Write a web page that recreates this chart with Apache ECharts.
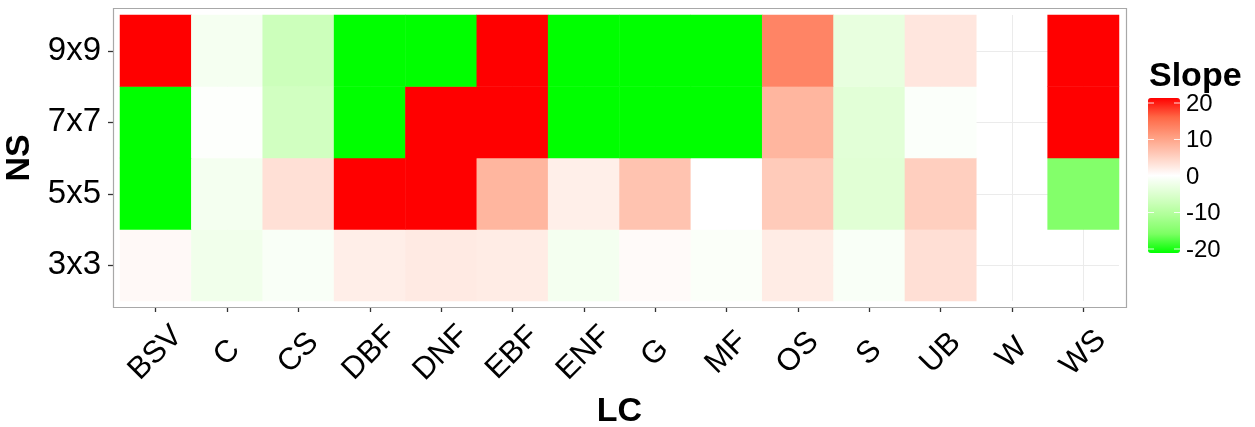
<!DOCTYPE html>
<html>
<head>
<meta charset="utf-8">
<script src="https://cdn.jsdelivr.net/npm/echarts@6/dist/echarts.min.js"></script>
<style>
  html, body { margin: 0; padding: 0; background: #ffffff; }
  #chart { width: 1255px; height: 427px; }
</style>
</head>
<body>
<div id="chart"></div>
<script>
// Land-cover classes (x) and neighbourhood sizes (y)
const landCover = ['BSV', 'C', 'CS', 'DBF', 'DNF', 'EBF', 'ENF', 'G', 'MF', 'OS', 'S', 'UB', 'W', 'WS'];
const neighbourhood = ['3x3', '5x5', '7x7', '9x9'];

// Slope per land-cover class, one array per neighbourhood size (null = no data)
const slope3x3 = [0.6, -2.0, -0.8, 1.8, 2.2, 2.0, -1.5, 0.5, -0.6, 2.0, -0.8, 3.3, null, null];
const slope5x5 = [-25, -1.5, 3.2, 25, 25, 7.6, 1.7, 6.2, 0.0, 5.4, -4.2, 5.0, null, -14.4];
const slope7x7 = [-25, -0.3, -6.2, -25, 25, 25, -25, -25, -25, 7.6, -4.0, -0.5, null, 25];
const slope9x9 = [25, -1.4, -6.8, -25, -25, 25, -25, -25, -25, 12.4, -3.2, 2.6, null, 25];

// Colour-bar limits and tick labels
const slopeMin = -20;
const slopeMax = 20;
const legendTicks = [20, 10, 0, -10, -20];

const FONT = '"Liberation Sans", Arial, Helvetica, sans-serif';

// Build heatmap cells; the 4th dimension is squished into the colour range
const rows = [slope3x3, slope5x5, slope7x7, slope9x9];
const cells = [];
rows.forEach(function (row, yi) {
  row.forEach(function (v, xi) {
    if (v === null) return;
    const squished = Math.max(slopeMin, Math.min(slopeMax, v));
    cells.push([xi, yi, v, squished]);
  });
});

// Grid lines through category centres (behind the tiles)
const gridLineData = landCover.map(function (c) { return { xAxis: c }; })
  .concat(neighbourhood.map(function (n) { return { yAxis: n }; }));

// Colour-bar geometry: the bar runs slightly past the end ticks
const barLeft = 1148, barTop = 98, barW = 32, barH = 155;
const tickTop = 103, tickBottom = 249;
function barY(v) { return tickTop + (slopeMax - v) / (slopeMax - slopeMin) * (tickBottom - tickTop); }

const legendGraphics = [];
legendTicks.forEach(function (t) {
  const y = barY(t);
  legendGraphics.push({
    type: 'text', x: barLeft + barW + 6, y: y + 1, z: 100,
    style: { text: String(t), font: '24px ' + FONT, fill: '#000', verticalAlign: 'middle', align: 'left' }
  });
  legendGraphics.push({
    type: 'line', z: 100, silent: true,
    shape: { x1: barLeft, y1: y, x2: barLeft + 6, y2: y },
    style: { stroke: 'rgba(255,255,255,0.85)', lineWidth: 1 }
  });
  legendGraphics.push({
    type: 'line', z: 100, silent: true,
    shape: { x1: barLeft + barW - 6, y1: y, x2: barLeft + barW, y2: y },
    style: { stroke: 'rgba(255,255,255,0.85)', lineWidth: 1 }
  });
});

const chart = echarts.init(document.getElementById('chart'), null, { renderer: 'canvas' });

chart.setOption({
  animation: false,
  backgroundColor: '#ffffff',
  textStyle: { fontFamily: FONT },
  grid: { left: 120, right: 136, top: 15, bottom: 126, containLabel: false, outerBoundsMode: 'none' },
  xAxis: {
    type: 'category',
    data: landCover,
    offset: 6,
    name: 'LC',
    nameLocation: 'middle',
    nameGap: 88,
    nameTextStyle: { fontSize: 34, fontWeight: 'bold', color: '#000', fontFamily: FONT },
    axisLine: { show: false },
    axisTick: { show: true, alignWithLabel: true, length: 5, lineStyle: { color: '#333', width: 1.3 } },
    axisLabel: {
      rotate: 45, margin: 46, align: 'center', verticalAlign: 'middle',
      fontSize: 31, color: '#000', fontFamily: FONT, interval: 0
    },
    splitLine: { show: false }
  },
  yAxis: {
    type: 'category',
    data: neighbourhood,
    offset: 7,
    name: 'NS',
    nameLocation: 'middle',
    nameGap: 75,
    nameTextStyle: { fontSize: 34, fontWeight: 'bold', color: '#000', fontFamily: FONT },
    axisLine: { show: false },
    axisTick: { show: true, alignWithLabel: true, length: 5, lineStyle: { color: '#333', width: 1.3 } },
    axisLabel: { margin: 12, fontSize: 33, color: '#000', fontFamily: FONT },
    splitLine: { show: false }
  },
  visualMap: {
    type: 'continuous',
    min: slopeMin,
    max: slopeMax,
    dimension: 3,
    seriesIndex: 1,
    calculable: false,
    realtime: false,
    orient: 'vertical',
    left: barLeft,
    top: barTop,
    padding: 0,
    itemWidth: barW,
    itemHeight: barH,
    text: null,
    showLabel: false,
    inRange: {
      color: ['#00FF00', '#7DFF64', '#B1FF9A', '#DBFFCD', '#FFFFFF',
              '#FFCFBF', '#FF9E81', '#FF6846', '#FF0000']
    }
  },
  graphic: [
    {
      type: 'rect', z: 50, silent: true,
      shape: { x: 113.5, y: 8.5, width: 1013, height: 299 },
      style: { fill: 'none', stroke: '#a8a8a8', lineWidth: 1.2 }
    },
    {
      type: 'text', left: barLeft + 1, top: 60, z: 100,
      style: { text: 'Slope', font: 'bold 34px ' + FONT, fill: '#000' }
    }
  ].concat(legendGraphics),
  series: [
    {
      type: 'scatter',
      data: [],
      z: 0,
      silent: true,
      markLine: {
        z: 0,
        silent: true,
        symbol: 'none',
        animation: false,
        label: { show: false },
        lineStyle: { color: '#ebebeb', width: 1, type: 'solid' },
        data: gridLineData
      }
    },
    {
      type: 'heatmap',
      z: 3,
      data: cells,
      itemStyle: { borderWidth: 0 },
      emphasis: { disabled: true }
    }
  ]
});
</script>
</body>
</html>
